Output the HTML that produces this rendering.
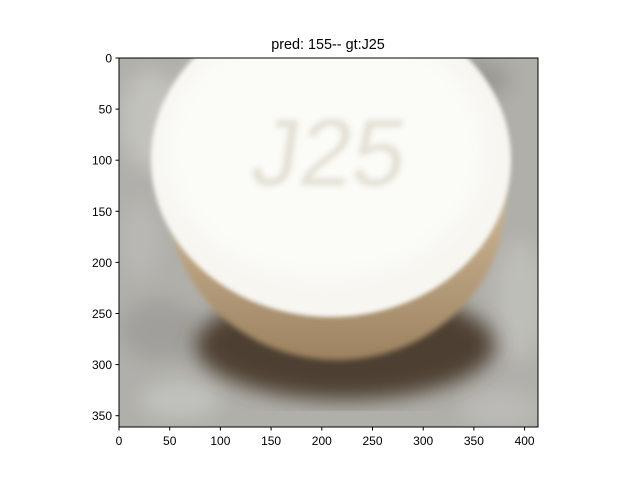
<!DOCTYPE html>
<html><head><meta charset="utf-8"><style>
body{margin:0;background:#fff;}
svg{display:block;font-family:"Liberation Sans","DejaVu Sans",sans-serif;}
</style></head><body>
<svg id="chart" width="640" height="480" viewBox="0 0 640 480">
<defs>
<filter id="b4"><feGaussianBlur stdDeviation="4"/></filter>
<filter id="b10"><feGaussianBlur stdDeviation="10"/></filter>
<filter id="b2"><feGaussianBlur stdDeviation="2"/></filter>
<filter id="b3"><feGaussianBlur stdDeviation="3"/></filter>
<linearGradient id="side" x1="0" y1="0" x2="0" y2="1">
 <stop offset="0.5" stop-color="#cdb593"/><stop offset="1" stop-color="#9c8260"/>
</linearGradient>
<clipPath id="ax"><rect x="119" y="58" width="419" height="369"/></clipPath>
</defs>
<text x="328" y="49" font-size="14.4" text-anchor="middle">pred: 155-- gt:J25</text>
<g clip-path="url(#ax)">
  <rect x="119" y="58" width="419" height="369" fill="#b0afaa"/>
  <g filter="url(#b10)" opacity="0.7">
    <ellipse cx="150" cy="120" rx="30" ry="50" fill="#cacac5"/>
    <ellipse cx="160" cy="330" rx="40" ry="30" fill="#9a9994"/>
    <ellipse cx="520" cy="300" rx="25" ry="60" fill="#c5c5c0"/>
    <ellipse cx="180" cy="400" rx="40" ry="20" fill="#c8c9c5"/>
    <ellipse cx="500" cy="410" rx="40" ry="20" fill="#c0c0bb"/>
    <ellipse cx="140" cy="240" rx="20" ry="40" fill="#bcbcb7"/>
    <ellipse cx="470" cy="80" rx="40" ry="20" fill="#8f8e89"/>
  </g>
  <ellipse cx="345" cy="345" rx="150" ry="55" fill="#4d4031" filter="url(#b10)"/>
  <ellipse cx="337" cy="200" rx="168" ry="160" fill="url(#side)" filter="url(#b3)"/>
  <ellipse cx="331" cy="160" rx="180" ry="157" fill="#f7f6f1" filter="url(#b2)"/>
  <ellipse cx="325" cy="150" rx="160" ry="130" fill="#fbfbf7" filter="url(#b10)"/>
  <text x="330" y="185" font-size="95" text-anchor="middle" fill="#e4e0d5" filter="url(#b3)" transform="skewX(-8)" transform-origin="330 150">J25</text>
</g>
<rect x="119" y="58" width="419" height="369" fill="none" stroke="#000" stroke-width="1"/>
<g id="xt"></g>
<g id="yt"></g>
</svg>
<script>
const xTicks=[0,50,100,150,200,250,300,350,400];
const yTicks=[0,50,100,150,200,250,300,350];
const x0=119,xs=1.014,y0=58,ys=1.022,bottom=427;
const NS="http://www.w3.org/2000/svg";
const xg=document.getElementById('xt'),yg=document.getElementById('yt');
xTicks.forEach(v=>{const x=x0+v*xs;
 const l=document.createElementNS(NS,'line');
 
 
 l.setAttribute('x1',x);l.setAttribute('x2',x);l.setAttribute('y1',bottom);l.setAttribute('y2',bottom+3.5);l.setAttribute('stroke','#000');xg.appendChild(l);
 const t=document.createElementNS(NS,'text');
 
 
 t.setAttribute('x',x);t.setAttribute('y',bottom+18);t.setAttribute('font-size','12');t.setAttribute('text-anchor','middle');t.textContent=v;xg.appendChild(t);});
yTicks.forEach(v=>{const y=y0+v*ys;
 const l=document.createElementNS(NS,'line');
 
 
 l.setAttribute('x1',x0-3.5);l.setAttribute('x2',x0);l.setAttribute('y1',y);l.setAttribute('y2',y);l.setAttribute('stroke','#000');yg.appendChild(l);
 const t=document.createElementNS(NS,'text');
 
 
 t.setAttribute('x',x0-7);t.setAttribute('y',y+4.5);t.setAttribute('font-size','12');t.setAttribute('text-anchor','end');t.textContent=v;yg.appendChild(t);});
</script>
</body></html>
